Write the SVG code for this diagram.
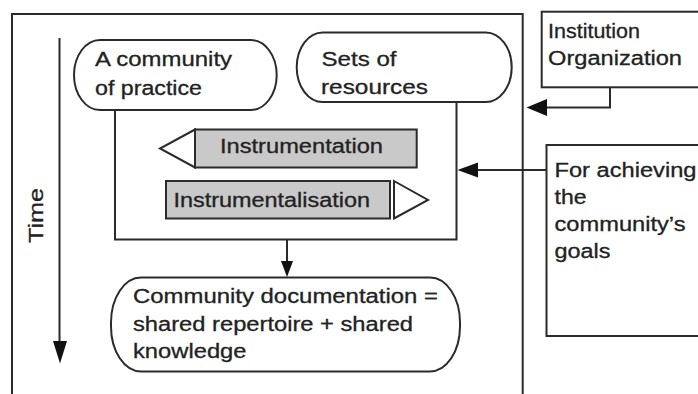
<svg xmlns="http://www.w3.org/2000/svg" width="698" height="394" viewBox="0 0 698 394">
<style>
.s{fill:none;stroke:#2b2b2b;stroke-width:2}
.w{fill:#fff;stroke:#2b2b2b;stroke-width:2}
.g{fill:#c9c9c9;stroke:#2b2b2b;stroke-width:2}
.h{fill:#111;stroke:none}
text{font-family:"Liberation Sans",Arial,sans-serif;font-size:20px;fill:#222;stroke:#222;stroke-width:0.3}
</style>
<rect x="0" y="0" width="698" height="394" fill="#fff"/>
<g id="frame"><rect class="s" x="12" y="14" width="510.7" height="400"/></g>
<g id="time">
<line class="s" x1="59.5" y1="38" x2="59.5" y2="345"/>
<polygon class="h" points="53,341 67,341 60,363.5"/>
<text transform="translate(43,243) rotate(-90)" textLength="55" lengthAdjust="spacingAndGlyphs">Time</text>
</g>
<g id="community">
<rect class="w" x="74" y="40" width="202.7" height="70" rx="26" ry="35"/>
<text x="95" y="65.5" textLength="137" lengthAdjust="spacingAndGlyphs">A community</text>
<text x="95" y="94.5" textLength="107" lengthAdjust="spacingAndGlyphs">of practice</text>
</g>
<g id="resources">
<rect class="w" x="296.7" y="32.5" width="215" height="69.5" rx="26" ry="34.7"/>
<text x="321.5" y="65.5" textLength="75" lengthAdjust="spacingAndGlyphs">Sets of</text>
<text x="321" y="94" textLength="107" lengthAdjust="spacingAndGlyphs">resources</text>
</g>
<g id="institution">
<rect class="s" x="541.7" y="11.7" width="170" height="75.6"/>
<text x="548" y="38" textLength="92" lengthAdjust="spacingAndGlyphs">Institution</text>
<text x="548" y="65" textLength="134" lengthAdjust="spacingAndGlyphs">Organization</text>
</g>
<g id="goals">
<rect class="s" x="546.5" y="145" width="170" height="191"/>
<text x="554.5" y="177" textLength="142" lengthAdjust="spacingAndGlyphs">For achieving</text>
<text x="554.5" y="204" textLength="32" lengthAdjust="spacingAndGlyphs">the</text>
<text x="554.5" y="231" textLength="131" lengthAdjust="spacingAndGlyphs">community’s</text>
<text x="554.5" y="257.5" textLength="56" lengthAdjust="spacingAndGlyphs">goals</text>
</g>
<g id="instrumentation">
<rect class="g" x="195" y="129.5" width="221.7" height="38"/>
<polygon class="w" points="195,129.5 160,148.5 195,167.5"/>
<text x="220" y="153" textLength="163" lengthAdjust="spacingAndGlyphs">Instrumentation</text>
</g>
<g id="instrumentalisation">
<rect class="g" x="166" y="181" width="224" height="37.5"/>
<polygon class="w" points="394,181 428,200 394,218.5"/>
<text x="173.5" y="206.5" textLength="196.5" lengthAdjust="spacingAndGlyphs">Instrumentalisation</text>
</g>
<g id="documentation">
<rect class="w" x="111" y="277.5" width="349" height="94" rx="30" ry="45"/>
<text x="133" y="303" textLength="305" lengthAdjust="spacingAndGlyphs">Community documentation =</text>
<text x="133" y="331" textLength="280" lengthAdjust="spacingAndGlyphs">shared repertoire + shared</text>
<text x="133" y="358" textLength="113.5" lengthAdjust="spacingAndGlyphs">knowledge</text>
</g>
<g id="connectors">
<polyline class="s" points="115,110 115,239.5 456.5,239.5 456.5,102"/>
<line class="s" x1="287" y1="239.5" x2="287" y2="262"/>
<polygon class="h" points="281,261 293,261 287,277"/>
<polyline class="s" points="610,87.3 610,107.5 545,107.5"/>
<polygon class="h" points="547,99 547,116 526.5,107.5"/>
<line class="s" x1="546.5" y1="170" x2="476" y2="170"/>
<polygon class="h" points="478,162.5 478,177.5 457.5,170"/>
</g>
</svg>
